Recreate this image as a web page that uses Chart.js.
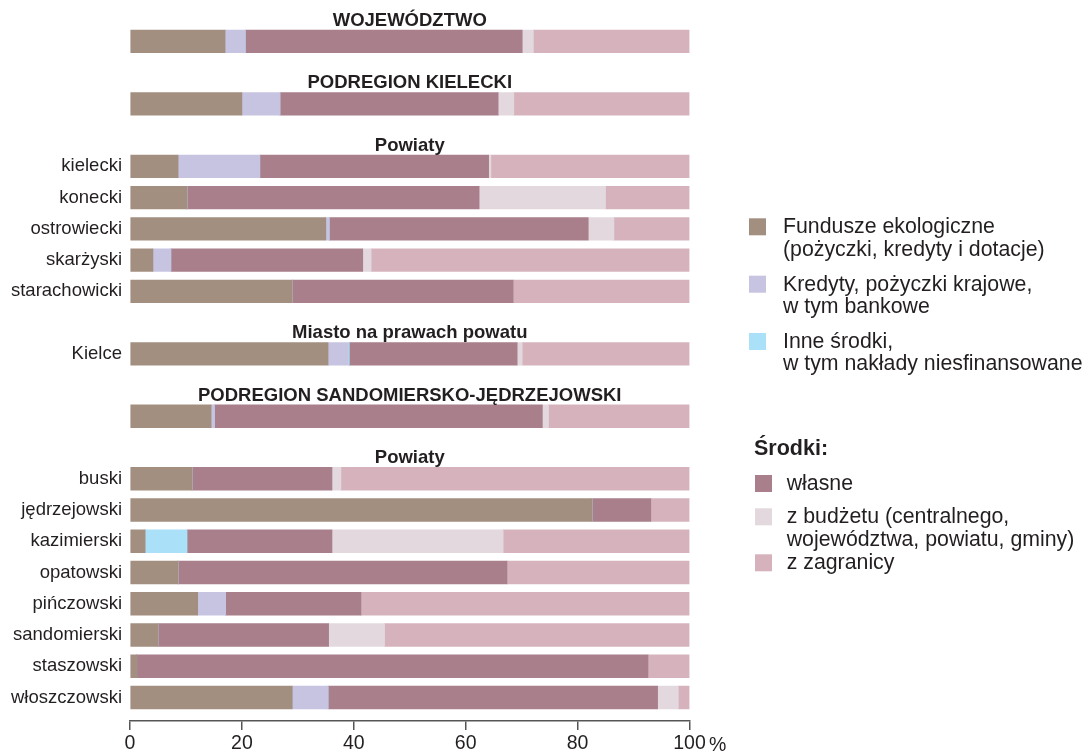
<!DOCTYPE html>
<html><head><meta charset="utf-8">
<script src="https://cdn.jsdelivr.net/npm/chart.js@4/dist/chart.umd.min.js"></script>
<style>html,body{margin:0;padding:0;background:#fff;}canvas{display:block}</style>
</head><body>
<canvas id="c" width="1085" height="754"></canvas>
<script>
// ---- data ----
const categories = ['WOJEWÓDZTWO','PODREGION KIELECKI','kielecki','konecki','ostrowiecki','skarżyski','starachowicki','Kielce','PODREGION SANDOMIERSKO-JĘDRZEJOWSKI','buski','jędrzejowski','kazimierski','opatowski','pińczowski','sandomierski','staszowski','włoszczowski'];
const headings = ['WOJEWÓDZTWO','PODREGION KIELECKI','Powiaty',null,null,null,null,'Miasto na prawach powatu','PODREGION SANDOMIERSKO-JĘDRZEJOWSKI','Powiaty',null,null,null,null,null,null,null];
const regionRows = ['WOJEWÓDZTWO','PODREGION KIELECKI','PODREGION SANDOMIERSKO-JĘDRZEJOWSKI'];
const xTicks = [0,20,40,60,80,100];
const unitLabel = '%';

const seriesNames = ['Fundusze ekologiczne\n(pożyczki, kredyty i dotacje)','Kredyty, pożyczki krajowe,\nw tym bankowe','Inne środki,\nw tym nakłady niesfinansowane','własne','z budżetu (centralnego,\nwojewództwa, powiatu, gminy)','z zagranicy'];
const fundusze  = [17.0,20.0, 8.6,10.2,35.0, 4.1,29.0,35.4,14.5,11.1,82.6, 2.7, 8.6,12.1, 5.0, 1.2,29.0];
const kredyty   = [ 3.6, 6.8,14.6, 0.0, 0.6, 3.2, 0.0, 3.6, 0.6, 0.0, 0.0, 0.0, 0.0, 5.0, 0.0, 0.0, 6.4];
const inne      = [ 0.0, 0.0, 0.0, 0.0, 0.0, 0.0, 0.0, 0.2, 0.0, 0.0, 0.0, 7.5, 0.0, 0.0, 0.0, 0.0, 0.0];
const wlasne    = [49.5,39.0,40.9,52.2,46.3,34.3,39.5,30.0,58.6,25.0,10.5,25.9,58.8,24.2,30.5,91.4,58.9];
const budzet    = [ 2.0, 2.8, 0.4,22.6, 4.6, 1.5, 0.0, 0.9, 1.1, 1.6, 0.0,30.6, 0.0, 0.0,10.0, 0.0, 3.7];
const zagranica = [27.9,31.4,35.5,15.0,13.5,56.9,31.5,29.9,25.2,62.3, 6.9,33.3,32.6,58.7,54.5, 7.4, 2.0];
const seriesValues = [fundusze,kredyty,inne,wlasne,budzet,zagranica];
const colors = ['#a38f80','#c7c4e2','#aae0f8','#a87f8b','#e2d8de','#d6b3bc'];

// ---- row slots: a heading takes one slot above its row ----
const rowPos = [];
let slot = 0;
categories.forEach((c,i)=>{ if (headings[i]) slot++; rowPos.push(slot); slot++; });
const nSlots = slot;
const labelAt = {};
categories.forEach((c,i)=>{ if (!regionRows.includes(c)) labelAt[rowPos[i]] = c; });

const textColor = '#231f20';
const FONT = "'Liberation Sans', Arial, sans-serif";

const extras = {
  id:'extras',
  afterDatasetsDraw(chart){
    const ctx = chart.ctx, ys = chart.scales.y, ca = chart.chartArea;
    ctx.save();
    ctx.fillStyle = textColor;
    ctx.font = "bold 18.5px " + FONT;
    ctx.textAlign = 'center'; ctx.textBaseline = 'alphabetic';
    const cx = (ca.left + ca.right)/2;
    categories.forEach((c,i)=>{
      if (headings[i]) ctx.fillText(headings[i], cx, ys.getPixelForValue(rowPos[i]) - 15.5);
    });
    // unit
    ctx.font = "19.5px " + FONT; ctx.textAlign='left';
    ctx.fillText(unitLabel, 709, 751);
    // legend
    const legendA = [233.3, 290.7, 348];
    const legendB = [490, 523.3, 569.3];
    ctx.font = "21.3px " + FONT;
    const lh = 22.3;
    const entry = (k, sx, tx, base) => {
      ctx.fillStyle = colors[k];
      ctx.fillRect(sx, base + 2 - 17, 17, 17);
      ctx.fillStyle = textColor;
      seriesNames[k].split('\n').forEach((ln,j)=> ctx.fillText(ln, tx, base + j*lh));
    };
    [0,1,2].forEach((k,j)=> entry(k, 749, 783, legendA[j]));
    [3,4,5].forEach((k,j)=> entry(k, 755, 786.7, legendB[j]));
    ctx.fillStyle = textColor;
    ctx.font = "bold 21.5px " + FONT;
    ctx.fillText('Środki:', 754, 455);
    ctx.restore();
  }
};

new Chart(document.getElementById('c'), {
  type:'bar',
  data:{
    datasets: seriesValues.map((vals,k)=>({
      label: seriesNames[k].replace('\n',' '),
      data: vals.map((v,i)=>({x:v, y:rowPos[i]})),
      backgroundColor: colors[k],
      borderWidth:0,
      barThickness:22.7
    }))
  },
  options:{
    indexAxis:'y',
    responsive:false,
    animation:false,
    devicePixelRatio:1,
    layout:{padding:{top:2.35, right:395.5, bottom:0, left:0}},
    plugins:{legend:{display:false}, tooltip:{enabled:false}},
    scales:{
      x:{
        type:'linear', min:0, max:100, stacked:true, position:'bottom', offset:false,
        afterBuildTicks: s => { s.ticks = xTicks.map(v=>({value:v})); },
        ticks:{font:{size:19.5, family:FONT}, color:textColor, padding:2, maxRotation:0, autoSkip:false},
        grid:{drawOnChartArea:false, drawTicks:true, tickLength:9, color:'#555', lineWidth:1.5, offset:false},
        border:{display:true, color:'#555', width:1.5},
        afterFit: s => { s.height = 33.1; s.paddingLeft = 0; s.paddingRight = 0; }
      },
      y:{
        type:'linear', reverse:true, min:-0.25, max:nSlots - 0.25, stacked:true, offset:false,
        afterBuildTicks: s => { s.ticks = Object.keys(labelAt).map(p=>({value:+p})); },
        ticks:{callback: v => labelAt[v] || '', font:{size:18.5, family:FONT}, color:textColor, padding:8, autoSkip:false},
        grid:{display:false, drawTicks:false, offset:false},
        border:{display:false},
        afterFit: s => { s.width = 130; s.paddingTop = 0; s.paddingBottom = 0; }
      }
    }
  },
  plugins:[extras]
});
</script>
</body></html>
